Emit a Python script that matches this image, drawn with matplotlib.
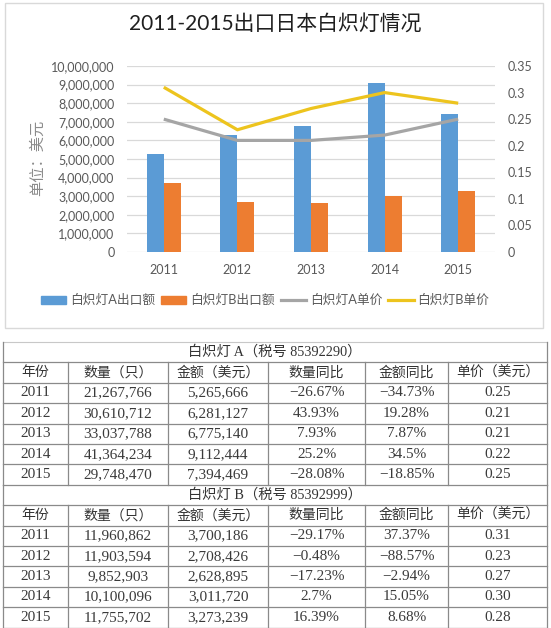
import matplotlib
matplotlib.use('Agg')
import matplotlib.pyplot as plt
from matplotlib.patches import Rectangle, Patch
from matplotlib.lines import Line2D
from matplotlib.ticker import FuncFormatter, MultipleLocator
import numpy as np

# ---------------- data ----------------
years = ['2011', '2012', '2013', '2014', '2015']
a_amount = [5265666, 6281127, 6775140, 9112444, 7394469]
b_amount = [3700186, 2708426, 2628895, 3011720, 3273239]
a_price = [0.25, 0.21, 0.21, 0.22, 0.25]
b_price = [0.31, 0.23, 0.27, 0.30, 0.28]

a_qty = [21267766, 30610712, 33037788, 41364234, 29748470]
a_qty_yoy = ['-26.67%', '43.93%', '7.93%', '25.2%', '-28.08%']
a_amt_yoy = ['-34.73%', '19.28%', '7.87%', '34.5%', '-18.85%']
a_price_txt = ['0.25', '0.21', '0.21', '0.22', '0.25']

b_qty = [11960862, 11903594, 9852903, 10100096, 11755702]
b_qty_yoy = ['-29.17%', '-0.48%', '-17.23%', '2.7%', '16.39%']
b_amt_yoy = ['37.37%', '-88.57%', '-2.94%', '15.05%', '8.68%']
b_price_txt = ['0.31', '0.23', '0.27', '0.30', '0.28']

headers = ['年份', '数量（只）', '金额（美元）', '数量同比', '金额同比', '单价（美元）']
title_a = '白炽灯 A（税号 85392290）'
title_b = '白炽灯 B（税号 85392999）'
chart_title = '2011-2015出口日本白炽灯情况'
series_names = ['白炽灯A出口额', '白炽灯B出口额', '白炽灯A单价', '白炽灯B单价']

# ---------------- style ----------------
C_BLUE = '#5B9BD5'
C_ORANGE = '#ED7D31'
C_GRAY = '#A5A5A5'
C_YELLOW = '#EDC41E'
TXT = '#595959'
CH_FONT = ['Lato', 'Noto Sans CJK SC', 'DejaVu Sans']
TB_FONT = ['Liberation Serif', 'Noto Sans CJK SC', 'DejaVu Serif']

W, H = 551, 628
fig = plt.figure(figsize=(W / 100, H / 100), dpi=100)
fig.patch.set_facecolor('white')

# overlay axes in pixel coordinates
ov = fig.add_axes([0, 0, 1, 1], zorder=0)
ov.set_xlim(0, W)
ov.set_ylim(H, 0)
ov.axis('off')
ov.patch.set_alpha(0)

# chart border
ov.add_patch(Rectangle((5, 3), 538, 325, fill=False, edgecolor='#d9d9d9', lw=1.0))

# ---------------- chart ----------------
ax = fig.add_axes([127 / W, (H - 252) / H, 368 / W, 186 / H], zorder=2)
ax.patch.set_alpha(0)
x = np.arange(len(years))
bw = 0.23
ax.bar(x - bw / 2, a_amount, width=bw, color=C_BLUE, zorder=3)
ax.bar(x + bw / 2, b_amount, width=bw, color=C_ORANGE, zorder=3)
ax.set_xlim(-0.5, len(years) - 0.5)
ax.set_ylim(0, 10000000)
ax.yaxis.set_major_locator(MultipleLocator(1000000))
ax.yaxis.set_major_formatter(FuncFormatter(lambda v, p: f'{int(v):,}'))
ax.grid(axis='y', color='#d9d9d9', lw=0.9, zorder=0)
ax.set_axisbelow(True)
for s in ax.spines.values():
    s.set_visible(False)
ax.set_xticks(x)
ax.set_xticklabels(years)
ax.tick_params(axis='both', length=0, colors=TXT, labelsize=9)
ax.tick_params(axis='y', pad=9)
ax.tick_params(axis='x', pad=9)
for lab in ax.get_xticklabels() + ax.get_yticklabels():
    lab.set_fontfamily(CH_FONT)

ax2 = ax.twinx()
ax2.set_zorder(3)
ax2.patch.set_alpha(0)
ax2.plot(x, a_price, color=C_GRAY, lw=2.3, solid_capstyle='butt')
ax2.plot(x, b_price, color=C_YELLOW, lw=2.3, solid_capstyle='butt')
ax2.set_ylim(0, 0.35)
ax2.yaxis.set_major_locator(MultipleLocator(0.05))
ax2.yaxis.set_major_formatter(FuncFormatter(lambda v, p: f'{v:.2f}'.rstrip('0').rstrip('.') if v else '0'))
for s in ax2.spines.values():
    s.set_visible(False)
ax2.tick_params(axis='y', length=0, colors=TXT, labelsize=9, pad=9)
for lab in ax2.get_yticklabels():
    lab.set_fontfamily(CH_FONT)

ov.text(275, 24, chart_title, ha='center', va='center', fontsize=15,
        color='#1f1f1f', family=CH_FONT)
ov.text(38, 158, '单位：美元', ha='center', va='center', rotation=90,
        fontsize=11, color='#8c8c8c', family=CH_FONT)

handles = [Patch(color=C_BLUE), Patch(color=C_ORANGE),
           Line2D([], [], color=C_GRAY, lw=2.3),
           Line2D([], [], color=C_YELLOW, lw=2.3)]
leg = fig.legend(handles, series_names, loc='center', ncol=4,
                 bbox_to_anchor=(265 / W, (H - 300) / H), frameon=False,
                 prop={'family': CH_FONT, 'size': 9.2}, handlelength=2.0,
                 handleheight=0.6, columnspacing=0.45, handletextpad=0.3,
                 labelcolor=TXT)

# ---------------- table ----------------
top = 342
rh = 20.4
cols = [3, 68, 168, 268, 365, 448, 547]
centers = [(cols[i] + cols[i + 1]) / 2 for i in range(len(cols) - 1)]
LC = '#8a8a8a'
TC = '#333333'


def fmt_pct(s):
    return s.replace('-', '−')


def block(row0, title, qty, amt, qyoy, ayoy, price):
    y0 = top + row0 * rh
    ov.text((cols[0] + cols[-1]) / 2, y0 + rh / 2, title, ha='center', va='center',
            fontsize=10.3, color=TC, family=TB_FONT)
    # header
    yh = y0 + rh
    for c, h in zip(centers, headers):
        ov.text(c, yh + rh / 2, h, ha='center', va='center', fontsize=10,
                color=TC, family=TB_FONT)
    for i in range(len(years)):
        yr = yh + rh * (i + 1) + rh / 2
        vals = [years[i], f'{qty[i]:,}', f'{amt[i]:,}', fmt_pct(qyoy[i]),
                fmt_pct(ayoy[i]), price[i]]
        for c, v in zip(centers, vals):
            ov.text(c, yr, v, ha='center', va='center', fontsize=11,
                    color='#3a3a3a', family=TB_FONT)
    # horizontal lines
    for k in range(1, 7 + 1):
        ov.plot([cols[0], cols[-1]], [y0 + k * rh] * 2, color=LC, lw=0.9)
    # vertical lines
    for cx in cols[1:-1]:
        ov.plot([cx, cx], [yh, yh + 6 * rh], color=LC, lw=0.9)
    ov.plot([cols[0], cols[0]], [y0, y0 + 7 * rh], color=LC, lw=0.9)
    ov.plot([cols[-1], cols[-1]], [y0, y0 + 7 * rh], color=LC, lw=0.9)


ov.plot([cols[0], cols[-1]], [top, top], color='#c8c8c8', lw=0.8)
block(0, title_a, a_qty, a_amount, a_qty_yoy, a_amt_yoy, a_price_txt)
block(7, title_b, b_qty, b_amount, b_qty_yoy, b_amt_yoy, b_price_txt)

fig.savefig('out.png', dpi=100, facecolor='white')
